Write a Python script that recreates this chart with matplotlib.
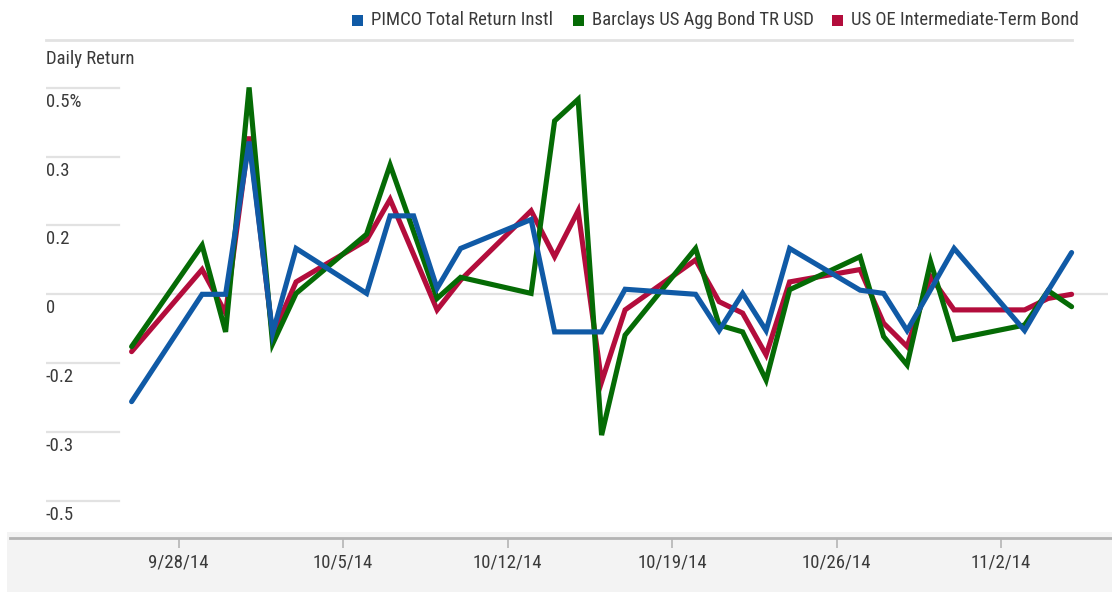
import matplotlib
matplotlib.use("Agg")
import matplotlib.pyplot as plt
import matplotlib.dates as mdates
import matplotlib.transforms as mtransforms
from matplotlib.lines import Line2D
from matplotlib.patches import Rectangle
import numpy as np
import pandas as pd

# ---------------- data ----------------
dates = ["2014-09-26", "2014-09-29", "2014-09-30", "2014-10-01", "2014-10-02", "2014-10-03",
         "2014-10-06", "2014-10-07", "2014-10-08", "2014-10-09", "2014-10-10",
         "2014-10-13", "2014-10-14", "2014-10-15", "2014-10-16", "2014-10-17",
         "2014-10-20", "2014-10-21", "2014-10-22", "2014-10-23", "2014-10-24",
         "2014-10-27", "2014-10-28", "2014-10-29", "2014-10-30", "2014-10-31",
         "2014-11-03", "2014-11-04", "2014-11-05"]

pimco = [-0.234, 0.000, 0.000, 0.333, -0.085, 0.100,
         0.002, 0.171, 0.171, 0.013, 0.100,
         0.163, -0.082, -0.082, -0.082, 0.011,
         0.000, -0.079, 0.002, -0.079, 0.100,
         0.009, 0.002, -0.079, 0.010, 0.100,
         -0.079, 0.008, 0.091]

barclays = [-0.114, 0.107, -0.082, 0.451, -0.108, 0.002,
            0.131, 0.282, 0.137, -0.009, 0.037,
            0.002, 0.378, 0.425, -0.307, -0.089,
            0.100, -0.067, -0.082, -0.187, 0.010,
            0.082, -0.092, -0.154, 0.071, -0.098,
            -0.067, 0.008, -0.027]

category = [-0.125, 0.054, -0.041, 0.344, -0.090, 0.027,
            0.118, 0.207, 0.087, -0.034, 0.031,
            0.182, 0.082, 0.182, -0.191, -0.034,
            0.075, -0.016, -0.041, -0.132, 0.027,
            0.054, -0.063, -0.114, 0.038, -0.034,
            -0.034, -0.009, 0.000]

series_names = ["PIMCO Total Return Instl", "Barclays US Agg Bond TR USD",
                "US OE Intermediate-Term Bond"]

ytick_values = [0.45, 0.30, 0.15, 0.0, -0.15, -0.30, -0.45]
ytick_labels = ["0.5%", "0.3", "0.2", "0", "-0.2", "-0.3", "-0.5"]

xtick_dates = ["2014-09-28", "2014-10-05", "2014-10-12", "2014-10-19", "2014-10-26", "2014-11-02"]
xtick_labels = ["9/28/14", "10/5/14", "10/12/14", "10/19/14", "10/26/14", "11/2/14"]

# ---------------- style ----------------
BLUE = "#105aa6"
GREEN = "#056b05"
RED = "#b30d3c"
GRID = "#e2e2e2"
AXIS = "#b4b4b4"
TEXT = "#3a3a3a"
FONT = ["Roboto Condensed", "Liberation Sans Narrow", "DejaVu Sans"]
plt.rcParams["font.family"] = FONT

W, H, DPI = 1112, 592, 100
fig = plt.figure(figsize=(W / DPI, H / DPI), dpi=DPI)
fig.patch.set_facecolor("white")

def fx(px):
    return px / W

def fy(py):
    return 1 - py / H

# bottom gray band (behind everything)
fig.patches.append(Rectangle((fx(7), 0), 1 - fx(7), fy(531.7), transform=fig.transFigure,
                             facecolor="#f3f3f3", edgecolor="none", zorder=-10))

# main axes (pixel geometry)
left, right, top, bottom = 46, 1108, 40, 538
ax = fig.add_axes([fx(left), fy(bottom), fx(right - left), (bottom - top) / H])
ax.set_zorder(5)
ax.set_facecolor("none")
for s in ax.spines.values():
    s.set_visible(False)

x = mdates.date2num(pd.to_datetime(dates))
ref = mdates.date2num(pd.Timestamp("2014-09-28"))
day_px = 23.5
ax.set_xlim(ref + (left - 178.6) / day_px, ref + (right - 178.6) / day_px)
zero_px, unit_px = 294.3, 458.7
ax.set_ylim((zero_px - bottom) / unit_px, (zero_px - top) / unit_px)

# gridlines
short = (119 - left) / (right - left)
for v in ytick_values:
    ax.axhline(v, xmin=0, xmax=(1.0 if v == 0 else short), color=GRID, lw=1.6, zorder=1)

# y labels (below gridlines)
trans = mtransforms.blended_transform_factory(ax.transAxes, ax.transData) + \
    mtransforms.ScaledTranslation(0, -14 / DPI, fig.dpi_scale_trans)
for v, lab in zip(ytick_values, ytick_labels):
    ax.text(0, v, lab, transform=trans, ha="left", va="center", fontsize=13.5, color=TEXT)
ax.set_yticks([])

# lines
kw = dict(lw=3.7, solid_joinstyle="miter", solid_capstyle="round")
ax.plot(x, category, color=RED, zorder=3, **kw)
ax.plot(x, barclays, color=GREEN, zorder=4, **kw)
ax.plot(x, pimco, color=BLUE, zorder=5, **kw)

# x ticks
ax.set_xticks(mdates.date2num(pd.to_datetime(xtick_dates)))
ax.set_xticklabels(xtick_labels, fontsize=13.5, color=TEXT)
ax.tick_params(axis="x", direction="out", length=7.2, width=1.2, color=AXIS, pad=4)

# x axis line
fig.add_artist(Line2D([fx(10), 1], [fy(538), fy(538)], transform=fig.transFigure,
                      color=AXIS, lw=2, zorder=2))

# top rule under legend
fig.add_artist(Line2D([fx(46), fx(1072)], [fy(39.5), fy(39.5)], transform=fig.transFigure,
                      color=GRID, lw=2, zorder=2))

# y axis title
fig.text(fx(46), fy(59), "Daily Return", ha="left", va="center", fontsize=13.5, color=TEXT)

# legend
leg_x = [352, 573, 832]
for lx, name, col in zip(leg_x, series_names, [BLUE, GREEN, RED]):
    fig.patches.append(Rectangle((fx(lx), fy(26)), 11 / W, 10.5 / H, transform=fig.transFigure,
                                 facecolor=col, edgecolor="none"))
    fig.text(fx(lx + 19), fy(20), name, ha="left", va="center", fontsize=13.5, color=TEXT)

fig.savefig("out.png", dpi=DPI)
